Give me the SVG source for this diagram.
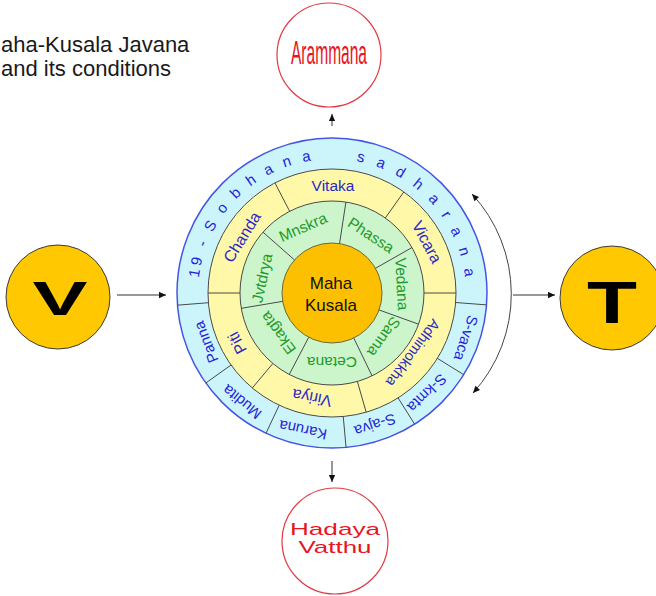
<svg xmlns="http://www.w3.org/2000/svg" width="656" height="596" viewBox="0 0 656 596">
  <style>
    .sans { font-family: "Liberation Sans", Arial, sans-serif; }
    .ttl { font-size: 22px; fill: #1a1a1a; }
    .gold { fill: #FFC800; stroke: #3a3a3a; stroke-width: 1; }
    .red-ring { fill: #ffffff; stroke: #e23a44; stroke-width: 1.2; }
    .red-txt { fill: #e8141e; }
    .big { font-weight: bold; fill: #000; text-anchor: middle; }
    .sep { stroke: #4a4a4a; stroke-width: 1; }
    .lbl { text-anchor: middle; }
    .lb { font-size: 15px; fill: #2424d6; }
    .ly { font-size: 16px; fill: #2a2ac6; }
    .lg { font-size: 15.5px; fill: #1e9a2a; }
    .conn { stroke: #333; stroke-width: 1; fill: none; }
  </style>
  <defs>
    <marker id="head" viewBox="0 0 10 10" refX="10" refY="5" markerUnits="userSpaceOnUse" markerWidth="8" markerHeight="7" orient="auto-start-reverse">
      <path d="M0,0.5 L10,5 L0,9.5 z" fill="#111"/>
    </marker>
    <!-- baseline arcs for the lettering of the outer ring -->
    <path id="rimArcLeft" d="M198.83,278.06 A134,134 0 0 1 332,159"/>
    <path id="rimArcRight" d="M356.19,161.20 A134,134 0 0 1 465.49,304.68"/>
  </defs>

  <!-- heading -->
  <g id="title" class="sans ttl">
    <text x="1" y="52">aha-Kusala Javana</text>
    <text x="1" y="76">and its conditions</text>
  </g>

  <!-- connectors -->
  <g id="connectors" class="conn">
    <line x1="117" y1="295" x2="166" y2="295" marker-end="url(#head)"/>
    <line x1="513" y1="295" x2="555" y2="295" marker-end="url(#head)"/>
    <line x1="332" y1="126" x2="332" y2="114" marker-end="url(#head)"/>
    <line x1="332" y1="461" x2="332" y2="482" marker-end="url(#head)"/>
    <path d="M472,194 A147,147 0 0 1 473,393" stroke="#444" marker-start="url(#head)" marker-end="url(#head)"/>
  </g>

  <!-- object -->
  <g id="arammana">
    <circle class="red-ring" cx="329" cy="55" r="52"/>
    <text class="red-txt" x="329" y="64" text-anchor="middle" font-family="'Liberation Sans Narrow','Liberation Sans',Arial,sans-serif" font-size="34" textLength="76" lengthAdjust="spacingAndGlyphs">Arammana</text>
  </g>

  <!-- heart base -->
  <g id="hadaya-vatthu" class="sans">
    <circle class="red-ring" cx="335" cy="541" r="53"/>
    <text class="red-txt" x="335" y="535" text-anchor="middle" font-size="17" textLength="90" lengthAdjust="spacingAndGlyphs">Hadaya</text>
    <text class="red-txt" x="335" y="553" text-anchor="middle" font-size="17" textLength="73" lengthAdjust="spacingAndGlyphs">Vatthu</text>
  </g>

  <!-- preceding and following mind moments -->
  <g id="node-v" class="sans">
    <circle class="gold" cx="58" cy="297" r="52"/>
    <text class="big" x="60" y="315" font-size="49" textLength="55" lengthAdjust="spacingAndGlyphs">V</text>
  </g>
  <g id="node-t" class="sans">
    <circle class="gold" cx="612" cy="298" r="52"/>
    <text class="big" x="612" y="323" font-size="60" textLength="50" lengthAdjust="spacingAndGlyphs">T</text>
  </g>

  <!-- the wheel of mental factors -->
  <g id="wheel" class="sans">
    <circle cx="332" cy="293" r="155" fill="#CCF5FB" stroke="#4455e6" stroke-width="1.5"/>
    <circle cx="332" cy="293" r="124" fill="#FFF8A8" stroke="#4a4a4a" stroke-width="1"/>
    <circle cx="332" cy="293" r="92" fill="#CCF5CC" stroke="#4a4a4a" stroke-width="1"/>
    <circle cx="332" cy="293" r="50" fill="#FDC000" stroke="#6a6a3a" stroke-width="1"/>

    <g id="spokes" class="sep">
      <!-- outer ring -->
      <line x1="455.63" y1="302.51" x2="486.54" y2="304.89"/>
      <line x1="437.39" y1="358.34" x2="463.73" y2="374.68"/>
      <line x1="398.09" y1="397.93" x2="414.61" y2="424.16"/>
      <line x1="343.24" y1="416.49" x2="346.05" y2="447.36"/>
      <line x1="279.20" y1="405.20" x2="266.00" y2="433.25"/>
      <line x1="231.05" y1="365.01" x2="205.81" y2="383.01"/>
      <line x1="208.38" y1="302.73" x2="177.48" y2="305.16"/>
      <!-- middle ring -->
      <line x1="424" y1="293" x2="456" y2="293"/>
      <line x1="357.36" y1="381.44" x2="366.18" y2="412.20"/>
      <line x1="272.86" y1="363.48" x2="252.29" y2="387.99"/>
      <line x1="240" y1="293" x2="208" y2="293"/>
      <line x1="289.66" y1="211.32" x2="274.94" y2="182.91"/>
      <line x1="385.29" y1="218.01" x2="403.83" y2="191.92"/>
      <!-- inner ring -->
      <line x1="379.04" y1="309.94" x2="418.56" y2="324.16"/>
      <line x1="353.76" y1="338.02" x2="372.04" y2="375.83"/>
      <line x1="308.76" y1="337.27" x2="289.23" y2="374.46"/>
      <line x1="282.70" y1="301.34" x2="241.29" y2="308.34"/>
      <line x1="294.49" y1="259.93" x2="262.99" y2="232.16"/>
      <line x1="339.56" y1="243.58" x2="345.92" y2="202.06"/>
      <line x1="375.48" y1="268.30" x2="411.99" y2="247.56"/>
    </g>

    <!-- outer ring lettering -->
    <g id="rim-lettering" class="lb">
      <text letter-spacing="3.5"><textPath href="#rimArcLeft">19 - S o b h a n a</textPath></text>
      <text letter-spacing="4.1"><textPath href="#rimArcRight">s a d h a r a n a</textPath></text>
    </g>

    <g id="outer-labels" class="lbl lb">
      <text transform="translate(466,338) rotate(108.5)" dy="0.35em">S-vaca</text>
      <text transform="translate(427,393) rotate(136)" dy="0.35em">S-kmta</text>
      <text transform="translate(375,425) rotate(161.5)" dy="0.35em">S-ajva</text>
      <text transform="translate(303,430) rotate(191.5)" dy="0.35em">Karuna</text>
      <text transform="translate(242,402) rotate(219)" dy="0.35em">Mudita</text>
      <text transform="translate(206,342) rotate(248.7)" dy="0.35em">Panna</text>
    </g>

    <g id="middle-labels" class="lbl ly">
      <text transform="translate(242,237) rotate(-58.1)" dy="0.35em">Chanda</text>
      <text transform="translate(333,186)" dy="0.35em" font-size="15.5">Vitaka</text>
      <text transform="translate(427,242) rotate(61.8)" dy="0.35em">Vicara</text>
      <text transform="translate(413,353) rotate(126.5)" dy="0.35em" font-size="14.5">Adhimokkha</text>
      <text transform="translate(312,398) rotate(190.8)" dy="0.35em">Viriya</text>
      <text transform="translate(237,343) rotate(242.2)" dy="0.35em">Piti</text>
    </g>

    <g id="inner-labels" class="lbl lg">
      <text transform="translate(262,278) rotate(-77.9)" dy="0.35em">Jvtdrya</text>
      <text transform="translate(303,227) rotate(-23.7)" dy="0.35em">Mnskra</text>
      <text transform="translate(371,235) rotate(33.2)" dy="0.35em">Phassa</text>
      <text transform="translate(402,284) rotate(87)" dy="0.35em">Vedana</text>
      <text transform="translate(384,337) rotate(125.5)" dy="0.35em">Sanna</text>
      <text transform="translate(332,362) rotate(180)" dy="0.35em">Cetana</text>
      <text transform="translate(278,333) rotate(233.5)" dy="0.35em">Ekagta</text>
    </g>

    <g id="core" text-anchor="middle" font-size="17" fill="#111">
      <text x="331" y="289">Maha</text>
      <text x="331" y="311">Kusala</text>
    </g>
  </g>
</svg>
